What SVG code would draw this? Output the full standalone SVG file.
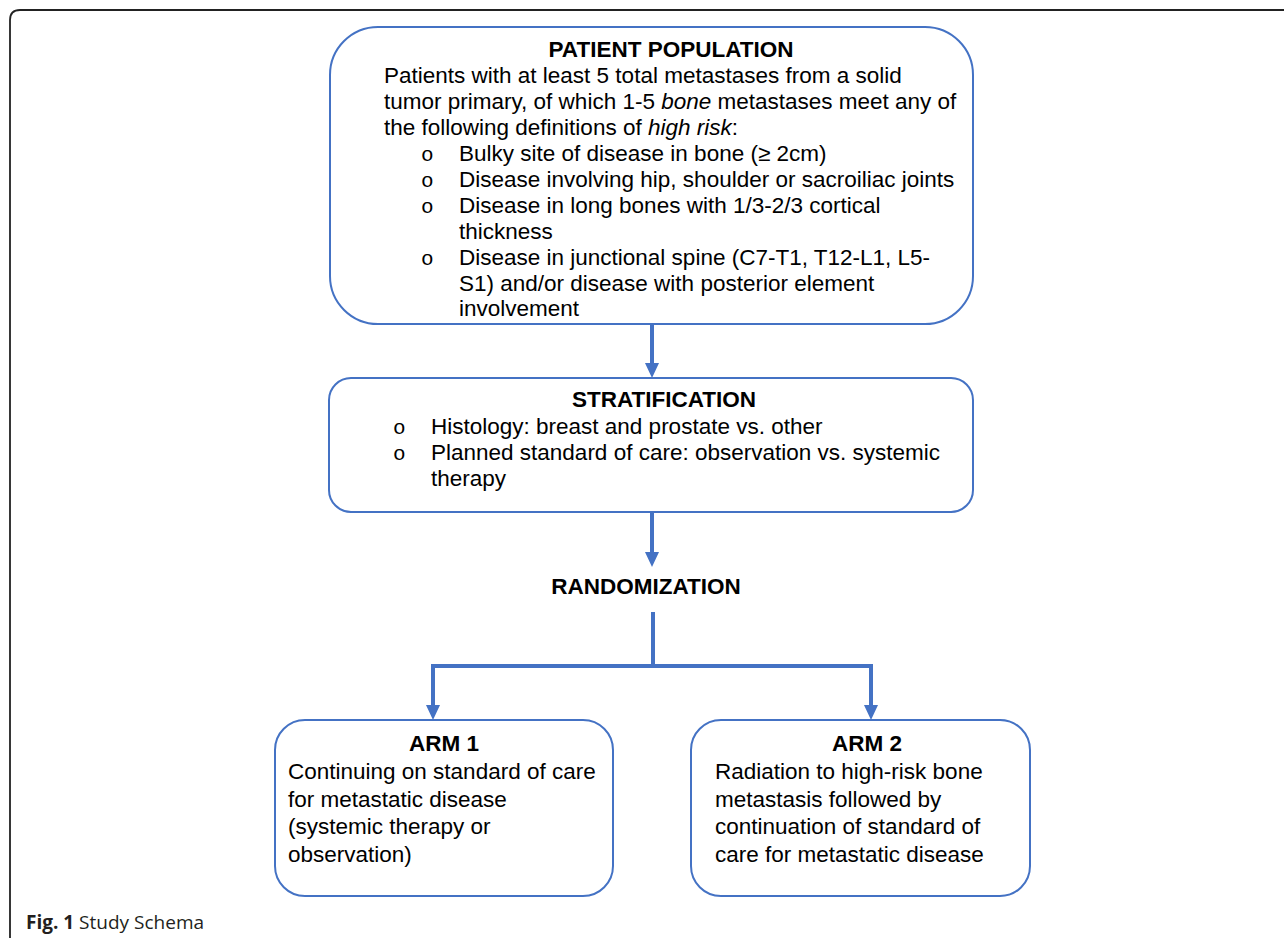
<svg xmlns="http://www.w3.org/2000/svg" width="1284" height="938" viewBox="0 0 1284 938">
<style>
.box{fill:#fff;stroke:#4472C4;stroke-width:2}
.t{font-family:"Liberation Sans",Arial,sans-serif;font-size:22.5px;fill:#000}
.b{font-weight:bold}
.i{font-style:italic}
.bul{font-family:"Liberation Mono","Courier New",monospace;font-size:21px;fill:#000}
.conn{fill:none;stroke:#4472C4;stroke-width:4}
.head{fill:#4472C4}
.cap{font-family:"Open Sans","Noto Sans",sans-serif;font-size:19px;fill:#231f20}
</style>
<path d="M10,938 V20 Q10,10 20,10 H1284" fill="none" stroke="#222" stroke-width="1.8"/>

<g id="connectors">
<path class="conn" d="M652,324 V365"/>
<path class="head" d="M645,363 L659,363 L652,378 Z"/>
<path class="conn" d="M652,512 V554"/>
<path class="head" d="M645,552 L659,552 L652,567 Z"/>
<path class="conn" d="M653,612 V666 M433,666 H871 M433,664 V707 M871,664 V707"/>
<path class="head" d="M426,705 L440,705 L433,720 Z"/>
<path class="head" d="M864,705 L878,705 L871,720 Z"/>
</g>

<g id="patient-population">
<rect class="box" x="330" y="27" width="643" height="297" rx="48" ry="48"/>
<text class="t b" x="671" y="57.3" text-anchor="middle">PATIENT POPULATION</text>
<text class="t" x="384" y="83.3">Patients with at least 5 total metastases from a solid</text>
<text class="t" x="384" y="109.2">tumor primary, of which 1-5 <tspan class="i">bone</tspan> metastases meet any of</text>
<text class="t" x="384" y="135.1">the following definitions of <tspan class="i">high risk</tspan>:</text>
<text class="bul" x="421" y="161">o</text>
<text class="t" x="459" y="161">Bulky site of disease in bone (≥ 2cm)</text>
<text class="bul" x="421" y="186.9">o</text>
<text class="t" x="459" y="186.9">Disease involving hip, shoulder or sacroiliac joints</text>
<text class="bul" x="421" y="212.8">o</text>
<text class="t" x="459" y="212.8">Disease in long bones with 1/3-2/3 cortical</text>
<text class="t" x="459" y="238.7">thickness</text>
<text class="bul" x="421" y="264.6">o</text>
<text class="t" x="459" y="264.6">Disease in junctional spine (C7-T1, T12-L1, L5-</text>
<text class="t" x="459" y="290.5">S1) and/or disease with posterior element</text>
<text class="t" x="459" y="316.4">involvement</text>
</g>

<g id="stratification">
<rect class="box" x="329" y="378" width="644" height="134" rx="22" ry="22"/>
<text class="t b" x="664" y="407" text-anchor="middle">STRATIFICATION</text>
<text class="bul" x="393" y="434">o</text>
<text class="t" x="431" y="434">Histology: breast and prostate vs. other</text>
<text class="bul" x="393" y="460">o</text>
<text class="t" x="431" y="460">Planned standard of care: observation vs. systemic</text>
<text class="t" x="431" y="486">therapy</text>
</g>

<g id="randomization">
<text class="t b" x="646" y="593.5" text-anchor="middle">RANDOMIZATION</text>
</g>

<g id="arm1">
<rect class="box" x="275" y="720" width="338" height="176" rx="30" ry="30"/>
<text class="t b" x="444" y="751" text-anchor="middle">ARM 1</text>
<text class="t" x="288" y="779">Continuing on standard of care</text>
<text class="t" x="288" y="806.5">for metastatic disease</text>
<text class="t" x="288" y="834">(systemic therapy or</text>
<text class="t" x="288" y="861.5">observation)</text>
</g>

<g id="arm2">
<rect class="box" x="691" y="720" width="339" height="176" rx="30" ry="30"/>
<text class="t b" x="867" y="751" text-anchor="middle">ARM 2</text>
<text class="t" x="715" y="779">Radiation to high-risk bone</text>
<text class="t" x="715" y="806.5">metastasis followed by</text>
<text class="t" x="715" y="834">continuation of standard of</text>
<text class="t" x="715" y="861.5">care for metastatic disease</text>
</g>

<g id="caption">
<text class="cap" x="26" y="929"><tspan font-weight="bold">Fig. 1</tspan> Study Schema</text>
</g>
</svg>
